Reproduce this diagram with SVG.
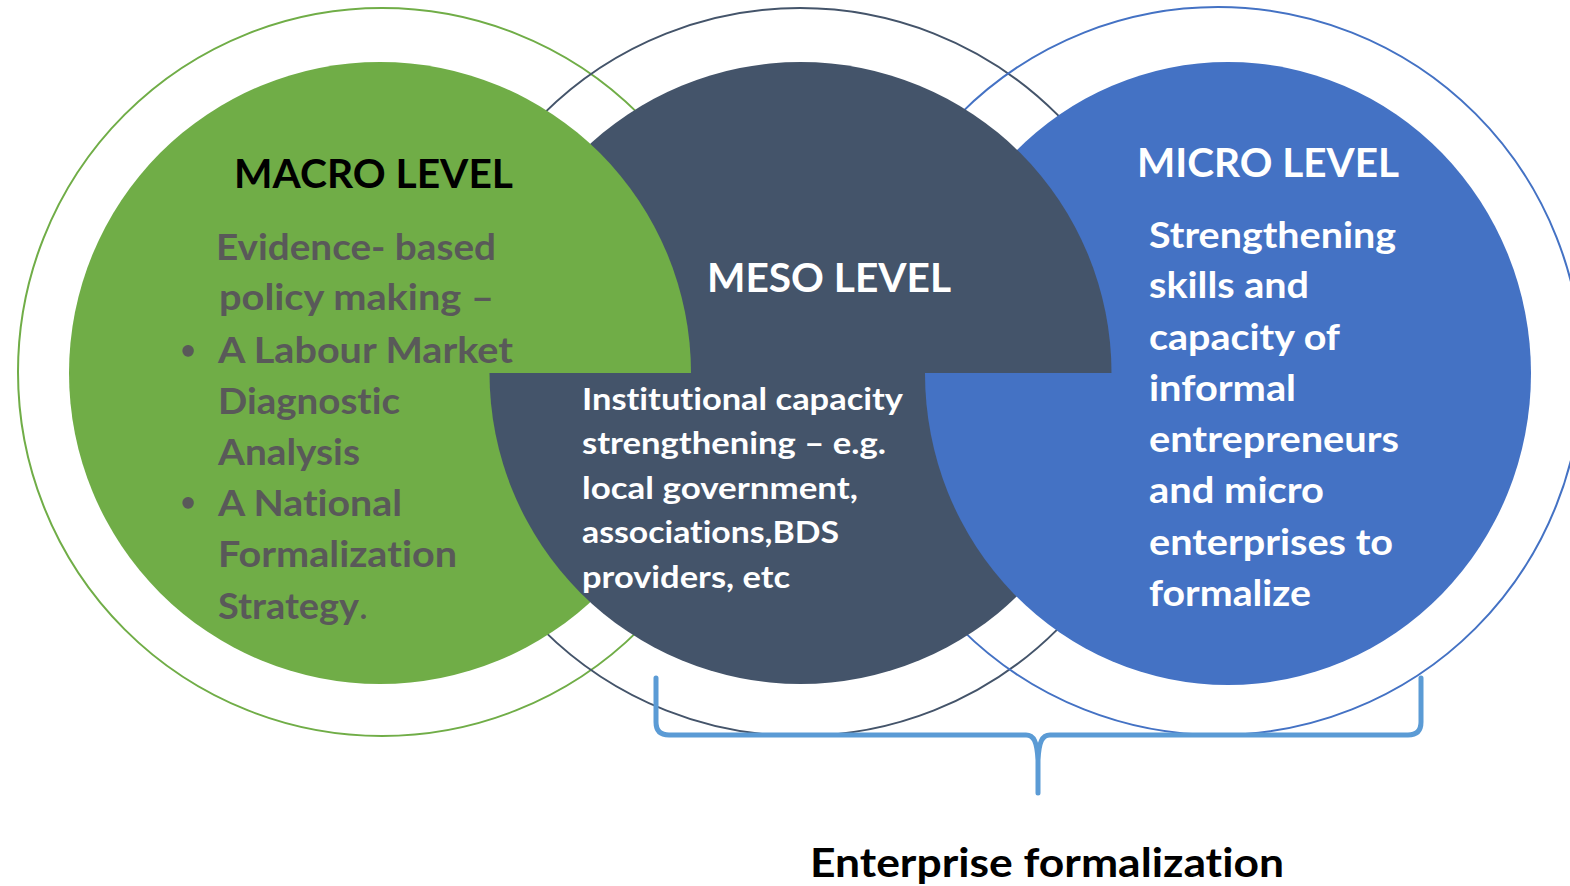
<svg xmlns="http://www.w3.org/2000/svg" width="1570" height="886" viewBox="0 0 1570 886">
<defs>
<style>
.ring{fill:none;stroke-width:2}
.t{font-family:Lato,Carlito,"Liberation Sans",sans-serif;font-weight:700;font-variant-ligatures:none;font-feature-settings:"liga" 0,"clig" 0,"dlig" 0}
.h{font-size:40px}
.b36{font-size:36px}
.b30{font-size:30px}
.bul{font-size:26px}
.w{fill:#FFFFFF}
.g{fill:#595959}
.k{fill:#000000}
.brace{fill:none;stroke:#5B9BD5;stroke-width:5;stroke-linecap:round;stroke-linejoin:round}
</style>
<clipPath id="clipTop"><rect x="0" y="0" width="1570" height="373"/></clipPath>
<clipPath id="clipBot"><rect x="0" y="373" width="1570" height="513"/></clipPath>
<circle id="discGreen" cx="380" cy="373" r="311" fill="#70AD47"/>
<circle id="discDark" cx="800.5" cy="373" r="311" fill="#44546A"/>
<ellipse id="discBlue" cx="1228" cy="373.5" rx="303" ry="311.5" fill="#4472C4"/>
</defs>
<rect width="1570" height="886" fill="#FFFFFF"/>
<g id="rings">
<circle class="ring" cx="382" cy="372" r="364" stroke="#70AD47"/>
<circle class="ring" cx="800" cy="372" r="364" stroke="#44546A"/>
<circle class="ring" cx="1218" cy="371" r="364" stroke="#4472C4"/>
</g>
<g id="discs-top" clip-path="url(#clipTop)">
<use href="#discBlue"/>
<use href="#discDark"/>
<use href="#discGreen"/>
</g>
<g id="discs-bottom" clip-path="url(#clipBot)">
<use href="#discGreen"/>
<use href="#discDark"/>
<use href="#discBlue"/>
</g>
<g id="macro" class="t">
<text class="h k" x="234" y="188" textLength="279" lengthAdjust="spacingAndGlyphs">MACRO LEVEL</text>
<g class="b36 g">
<text x="216" y="260" textLength="280" lengthAdjust="spacingAndGlyphs">Evidence- based</text>
<text x="219" y="310" textLength="275" lengthAdjust="spacingAndGlyphs">policy making –</text>
<text class="bul" x="188" y="359" text-anchor="middle">•</text>
<text x="218" y="363" textLength="295" lengthAdjust="spacingAndGlyphs">A Labour Market</text>
<text x="218" y="414" textLength="182" lengthAdjust="spacingAndGlyphs">Diagnostic</text>
<text x="218" y="465" textLength="142" lengthAdjust="spacingAndGlyphs">Analysis</text>
<text class="bul" x="188" y="511" text-anchor="middle">•</text>
<text x="218" y="516" textLength="184" lengthAdjust="spacingAndGlyphs">A National</text>
<text x="218" y="567" textLength="239" lengthAdjust="spacingAndGlyphs">Formalization</text>
<text x="218" y="619" textLength="150" lengthAdjust="spacingAndGlyphs">Strategy<tspan font-weight="400">.</tspan></text>
</g>
</g>
<g id="meso" class="t w">
<text class="h" x="707" y="292" textLength="244" lengthAdjust="spacingAndGlyphs">MESO LEVEL</text>
<g class="b30">
<text x="582" y="410" textLength="321" lengthAdjust="spacingAndGlyphs">Institutional capacity</text>
<text x="582" y="454" textLength="304" lengthAdjust="spacingAndGlyphs">strengthening – e.g.</text>
<text x="582" y="499" textLength="276" lengthAdjust="spacingAndGlyphs">local government,</text>
<text x="582" y="543" textLength="257" lengthAdjust="spacingAndGlyphs">associations,BDS</text>
<text x="582" y="588" textLength="208" lengthAdjust="spacingAndGlyphs">providers, etc</text>
</g>
</g>
<g id="micro" class="t w">
<text class="h" x="1137" y="177" textLength="262" lengthAdjust="spacingAndGlyphs">MICRO LEVEL</text>
<g class="b36">
<text x="1149" y="248" textLength="247" lengthAdjust="spacingAndGlyphs">Strengthening</text>
<text x="1149" y="298" textLength="160" lengthAdjust="spacingAndGlyphs">skills and</text>
<text x="1149" y="350" textLength="191" lengthAdjust="spacingAndGlyphs">capacity of</text>
<text x="1149" y="401" textLength="147" lengthAdjust="spacingAndGlyphs">informal</text>
<text x="1149" y="452" textLength="250" lengthAdjust="spacingAndGlyphs">entrepreneurs</text>
<text x="1149" y="503" textLength="175" lengthAdjust="spacingAndGlyphs">and micro</text>
<text x="1149" y="555" textLength="244" lengthAdjust="spacingAndGlyphs">enterprises to</text>
<text x="1149" y="606" textLength="162" lengthAdjust="spacingAndGlyphs">formalize</text>
</g>
</g>
<g id="connectors">
<path class="brace" d="M656,678 L656,722 Q656,735 669,735 L1026,735 C1034,735 1037,742 1038,760 L1038,793 M1038,760 C1039,742 1042,735 1050,735 L1408,735 Q1421,735 1421,722 L1421,678"/>
</g>
<g id="enterprise-label" class="t">
<text class="h k" x="810" y="877" textLength="474" lengthAdjust="spacingAndGlyphs">Enterprise formalization</text>
</g>
</svg>
